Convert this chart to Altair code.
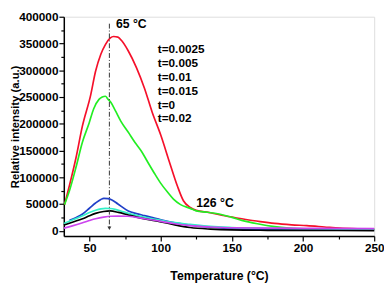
import altair as alt
import pandas as pd

FONT = "Liberation Sans"

labels = ["t=0.0025", "t=0.005", "t=0.01", "t=0.015", "t=0", "t=0.02"]
colors = ["#f5102a", "#22ee22", "#2040c8", "#33f0c8", "#000000", "#cc44ee"]

red_x = [32.5, 36, 40.6, 45, 50.9, 54.3, 58, 61.2, 64.5, 67, 70, 72.7, 77.3, 83, 88.7, 94,
         100.2, 106, 111.7, 116, 120.8, 125, 134, 145, 157, 170, 180, 192, 202.7, 215, 225.8, 240, 250]
red_y = [48800, 85000, 136900, 195000, 254000, 298000, 330000, 348000, 360000, 363000, 362000,
         355000, 336000, 305000, 266000, 222000, 178000, 130000, 84000, 56000, 43500, 38000, 34000,
         28000, 22400, 17000, 13600, 11000, 9500, 7000, 4800, 3500, 3000]

green_x = [32.5, 36, 40.6, 45, 49.8, 53, 56.7, 59, 61.2, 63, 65, 68.1, 72, 77.3, 82, 86.5, 91,
           95.6, 100, 104.8, 109, 114, 120.8, 125, 133, 141, 150, 157, 168, 180, 190, 202.7, 220, 250]
green_y = [48800, 75000, 119000, 165000, 201500, 228000, 245600, 250000, 251400, 246000, 240000,
           225000, 205000, 184000, 165000, 148700, 128000, 107500, 89000, 72200, 59000, 48800,
           41800, 37000, 34500, 31200, 25000, 19400, 13000, 7700, 5000, 3500, 3000, 2500]

blue_x = [36, 40, 45.2, 50, 54.3, 58, 60.1, 63, 65.8, 70, 77.3, 83, 88.7, 95, 100.2, 110, 120.8,
          135, 150, 175, 200, 250]
blue_y = [19400, 24000, 31200, 42000, 51800, 58500, 60600, 60000, 57600, 50000, 37000, 32000,
          28200, 24000, 20600, 15000, 10600, 6500, 4000, 2500, 1800, 1500]

cyan_x = [32, 38, 45.2, 50, 54.3, 58, 61.2, 64, 68.1, 72, 77.3, 88, 100.2, 110, 120.8, 135, 150,
          175, 200, 250]
cyan_y = [13600, 20000, 28200, 34000, 38200, 40800, 41800, 41500, 40000, 37000, 32400, 25500,
          19400, 15000, 11800, 8000, 6000, 4500, 3500, 3000]

black_x = [32, 38, 45.2, 50, 54.3, 60, 64.5, 70.4, 77.3, 88, 100.2, 110, 120.8, 135, 150, 175,
           200, 250]
black_y = [10600, 16000, 22400, 28000, 32400, 36000, 37000, 34200, 29400, 22500, 16600, 11000,
           6000, 3000, 1500, 800, 500, 300]

magenta_x = [32, 38, 45.2, 50, 54.3, 60, 65, 70, 77, 83, 88.7, 100.2, 110, 120.8, 135, 150, 175,
             200, 250]
magenta_y = [4800, 9000, 14800, 19000, 22400, 25500, 27000, 27200, 27000, 25000, 22400, 17600,
             13000, 9500, 7000, 5500, 5000, 4500, 4000]

series = [
    (labels[0], red_x, red_y),
    (labels[1], green_x, green_y),
    (labels[2], blue_x, blue_y),
    (labels[3], cyan_x, cyan_y),
    (labels[4], black_x, black_y),
    (labels[5], magenta_x, magenta_y),
]

rows = []
for lab, xs, ys in series:
    for i, (x, y) in enumerate(zip(xs, ys)):
        rows.append({"series": lab, "T": x, "I": y, "order": i})
df = pd.DataFrame(rows)

peak_T = [64]
peak_top = [387000]
peak_bottom = [6000]
head_I = [4500]

ann_text = ["65 °C", "126 °C"]
ann_T = [68.6, 125]
ann_I = [386000, 52000]

xscale = alt.Scale(domain=[32, 250], nice=False, zero=False)
yscale = alt.Scale(domain=[-10000, 400000], nice=False, zero=False)

xaxis = alt.Axis(
    title="Temperature (°C)",
    values=list(range(50, 251, 25)),
    labelExpr="datum.value % 50 == 0 ? datum.label : ''",
    tickSize={"condition": {"test": "datum.value % 50 == 0", "value": 5}, "value": 3},
    grid=False, labelFontSize=12, labelFontWeight="bold", labelFont=FONT,
    titleFontSize=12.5, titleFontWeight="bold", titleFont=FONT, titlePadding=16,
    labelPadding=2, domainColor="black", domainWidth=1.5, tickColor="black", tickWidth=1.2,
    labelColor="black", titleColor="black", labelFlush=False, labelOverlap=False,
)
yaxis = alt.Axis(
    title="Relative intensity (a.u.)",
    values=list(range(0, 400001, 25000)),
    labelExpr="(datum.value % 50000 == 0) ? format(datum.value, 'd') : ''",
    tickSize={"condition": {"test": "datum.value % 50000 == 0", "value": 5}, "value": 3},
    grid=False, labelFontSize=12, labelFontWeight="bold", labelFont=FONT,
    titleFontSize=11.5, titleFontWeight="bold", titleFont=FONT, titlePadding=-2,
    labelPadding=1, domainColor="black", domainWidth=1.5, tickColor="black", tickWidth=1.2,
    labelColor="black", titleColor="black", labelFlush=False, labelOverlap=False,
    labelSeparation=0, labelBound=False,
)

X = alt.X("T:Q", scale=xscale, axis=xaxis)

lines = alt.Chart(df).mark_line(strokeWidth=1.7, interpolate="monotone").encode(
    x=X,
    y=alt.Y("I:Q", scale=yscale, axis=yaxis),
    color=alt.Color(
        "series:N",
        scale=alt.Scale(domain=labels, range=colors),
        sort=labels,
        legend=alt.Legend(
            orient="none", legendX=84, legendY=27, title=None,
            symbolSize=0, symbolStrokeWidth=0, symbolOpacity=0, labelOffset=0,
            labelFontSize=12, labelFontWeight="bold", labelFont=FONT, labelColor="black",
            rowPadding=2.2, padding=0,
        ),
    ),
    detail="series:N",
    order="order:Q",
)

arrow_df = pd.DataFrame({"T": peak_T, "top": peak_top, "bottom": peak_bottom, "head": head_I})
rule = alt.Chart(arrow_df).mark_rule(color="#333333", strokeWidth=1, strokeDash=[5, 2, 1, 2]).encode(
    x=X, y=alt.Y("top:Q", scale=yscale, axis=yaxis), y2="bottom:Q"
)
head = alt.Chart(arrow_df).mark_point(shape="triangle-down", filled=True, color="#333333",
                                      size=16, opacity=1).encode(
    x=X, y=alt.Y("head:Q", scale=yscale, axis=yaxis)
)

ann_df = pd.DataFrame({"text": ann_text, "T": ann_T, "I": ann_I})
ann = alt.Chart(ann_df).mark_text(align="left", baseline="middle", font=FONT, fontSize=12.5,
                                  fontWeight="bold", color="black").encode(
    x=X, y=alt.Y("I:Q", scale=yscale, axis=yaxis), text="text:N"
)

chart = alt.layer(lines, rule, head, ann).properties(
    width=317, height=224,
    autosize=alt.AutoSizeParams(type="none"),
    padding={"left": 57, "top": 6, "right": 10, "bottom": 45},
).configure_view(stroke="black", strokeWidth=1.5).configure(background="white")

chart.save("out.html", embed_options={"renderer": "svg", "actions": False})
